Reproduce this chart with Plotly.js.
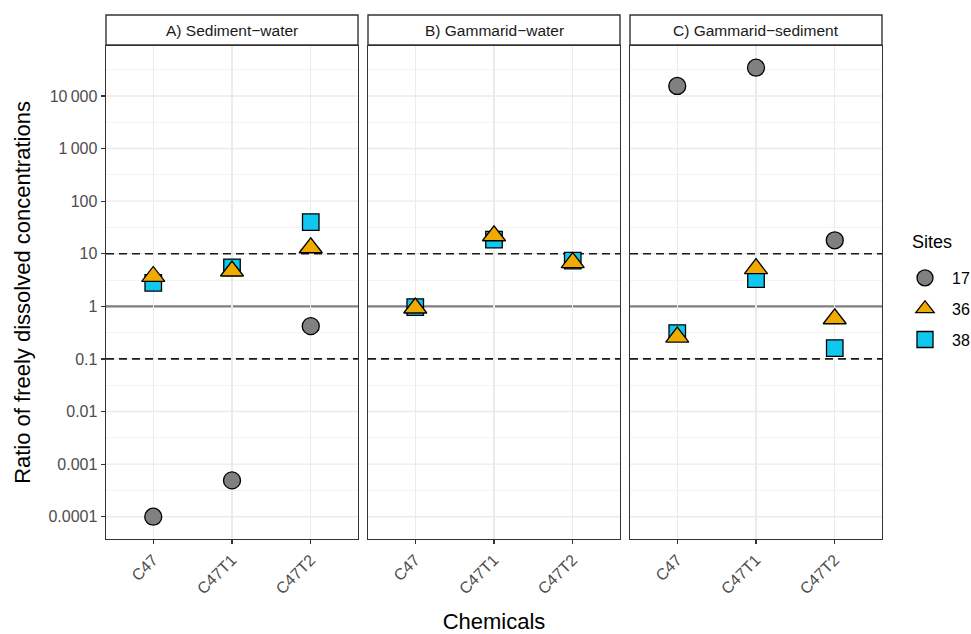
<!DOCTYPE html>
<html>
<head>
<meta charset="utf-8">
<script src="https://cdn.plot.ly/plotly-3.0.1.min.js"></script>
<style>html,body{margin:0;padding:0;background:#fff;}#chart{width:971px;height:634px;}</style>
</head>
<body>
<div id="chart"></div>
<script>
// ---- data ----
var chemicals = ["C47", "C47T1", "C47T2"];
var panels = ["A) Sediment\u2212water", "B) Gammarid\u2212water", "C) Gammarid\u2212sediment"];
var siteNames = ["17", "36", "38"];

// values per panel, ordered by chemicals (null = not present)
var site17_A = [0.0001, 0.00049, 0.42];
var site36_A = [3.7, 4.7, 13];
var site38_A = [2.8, 5.5, 40];

var site17_B = [null, null, null];
var site36_B = [0.93, 22, 6.8];
var site38_B = [0.97, 18.5, 7.4];

var site17_C = [15500, 34500, 18];
var site36_C = [0.26, 5.2, 0.58];
var site38_C = [0.31, 3.3, 0.16];

var yTickVals = [0.0001, 0.001, 0.01, 0.1, 1, 10, 100, 1000, 10000];
var yTickText = ["0.0001", "0.001", "0.01", "0.1", "1", "10", "100", "1\u2009000", "10\u2009000"];
var yMinorVals = [0.0000316, 0.000316, 0.00316, 0.0316, 0.316, 3.16, 31.6, 316, 3162, 31623];
var solidRef = [1];
var dashedRef = [10, 0.1];

// ---- style ----
var FONT = "Liberation Sans, Arial, sans-serif";
var colors = {"17": "#808080", "36": "#F0AA00", "38": "#10C8EF"};
var symbols = {"17": "circle", "36": "triangle-up", "38": "square"};
var sizes = {"17": 17, "36": 20, "38": 16.5};

var seriesByPanel = [
  {"17": site17_A, "36": site36_A, "38": site38_A},
  {"17": site17_B, "36": site36_B, "38": site38_B},
  {"17": site17_C, "36": site36_C, "38": site38_C}
];
var drawOrder = ["17", "38", "36"];
var legendRank = {"17": 1, "36": 2, "38": 3};

var traces = [];
seriesByPanel.forEach(function (p, i) {
  var xa = i === 0 ? "x" : "x" + (i + 1);
  var ya = i === 0 ? "y" : "y" + (i + 1);
  drawOrder.forEach(function (s) {
    traces.push({
      type: "scatter", mode: "markers",
      x: chemicals, y: p[s],
      xaxis: xa, yaxis: ya,
      name: s, legendgroup: s, showlegend: i === 0, legendrank: legendRank[s],
      marker: {symbol: symbols[s], size: sizes[s], color: colors[s],
               line: {color: "#000000", width: 1.3}},
      hoverinfo: "x+y+name"
    });
  });
});

var W = 776;
var domains = [[0, 252 / W], [262 / W, 514 / W], [524 / W, 1]];
var yr = [Math.log10(0.0001) - 0.424, Math.log10(10000) + 0.95];

function xaxis(i) {
  return {
    domain: domains[i], type: "category", categoryorder: "array", categoryarray: chemicals,
    range: [-0.6, 2.6], showline: true, linecolor: "#333333", linewidth: 1.4, mirror: true,
    showgrid: true, gridcolor: "#EBEBEB", gridwidth: 1.4, zeroline: false,
    ticks: "outside", ticklen: 4, tickcolor: "#333333", tickwidth: 1.2,
    tickangle: -45, tickfont: {family: FONT, size: 16, color: "#4D4D4D"},
    anchor: i === 0 ? "y" : "y" + (i + 1),
    title: i === 1 ? {text: "Chemicals", font: {family: FONT, size: 22, color: "#000"}, standoff: 24} : {text: ""}
  };
}
function yaxis(i) {
  return {
    type: "log", range: yr, tickmode: "array", tickvals: yTickVals, ticktext: yTickText,
    showticklabels: i === 0, ticks: i === 0 ? "outside" : "", ticklen: 4, tickcolor: "#333333", tickwidth: 1.2,
    showline: true, linecolor: "#333333", linewidth: 1.4, mirror: true,
    showgrid: false, zeroline: false,
    minor: {tickmode: "array", tickvals: yMinorVals, showgrid: true, gridcolor: "#F2F2F2", gridwidth: 0.9, ticks: ""},
    tickfont: {family: FONT, size: 16, color: "#4D4D4D"},
    anchor: i === 0 ? "x" : "x" + (i + 1),
    matches: i === 0 ? undefined : "y",
    title: i === 0 ? {text: "Ratio of freely dissolved concentrations", font: {family: FONT, size: 22, color: "#000"}, standoff: 11} : {text: ""}
  };
}

var shapes = [];
var annotations = [];
var stripH = 31 / 493;
for (var i = 0; i < 3; i++) {
  var xr = (i === 0 ? "x" : "x" + (i + 1)) + " domain";
  var yref = i === 0 ? "y" : "y" + (i + 1);
  // major horizontal gridlines (drawn as shapes so reference lines sit on top)
  yTickVals.forEach(function (v) {
    shapes.push({type: "line", xref: xr, yref: yref, x0: 0, x1: 1, y0: v, y1: v,
                 line: {color: "#EBEBEB", width: 1.4}, layer: "below"});
  });
  // reference lines
  solidRef.forEach(function (v) {
    shapes.push({type: "line", xref: xr, yref: yref, x0: 0, x1: 1, y0: v, y1: v,
                 line: {color: "#7F7F7F", width: 2.4}, layer: "below"});
  });
  dashedRef.forEach(function (v) {
    shapes.push({type: "line", xref: xr, yref: yref, x0: 0, x1: 1, y0: v, y1: v,
                 line: {color: "#1A1A1A", width: 1.6, dash: "8px,5px"}, layer: "below"});
  });
  // strip
  shapes.push({type: "rect", xref: "paper", yref: "paper", x0: domains[i][0], x1: domains[i][1],
               y0: 1 + 1 / 493, y1: 1 + stripH, fillcolor: "#FFFFFF", line: {color: "#333333", width: 1.4}});
  annotations.push({xref: "paper", yref: "paper", x: (domains[i][0] + domains[i][1]) / 2, y: 1 + stripH / 2 + 0.5 / 493,
                    text: panels[i], showarrow: false, xanchor: "center", yanchor: "middle",
                    font: {family: FONT, size: 15.5, color: "#1A1A1A"}});
}
// legend title
annotations.push({xref: "paper", yref: "paper", x: (910 - 106) / W, y: (539 - 242) / 493,
                  text: "Sites", showarrow: false, xanchor: "left", yanchor: "middle",
                  font: {family: FONT, size: 18, color: "#000"}});

var layout = {
  width: 971, height: 634,
  margin: {l: 106, r: 89, t: 46, b: 95, autoexpand: false},
  paper_bgcolor: "#FFFFFF", plot_bgcolor: "#FFFFFF",
  showlegend: true,
  legend: {x: 898 / 971, xref: "container", y: (539 - 261) / 493, xanchor: "left", yanchor: "top", traceorder: "grouped",
           font: {family: FONT, size: 16, color: "#000"}, itemwidth: 44,
           itemsizing: "trace", tracegroupgap: 7, bgcolor: "rgba(0,0,0,0)"},
  xaxis: xaxis(0), xaxis2: xaxis(1), xaxis3: xaxis(2),
  yaxis: yaxis(0), yaxis2: yaxis(1), yaxis3: yaxis(2),
  shapes: shapes, annotations: annotations
};
Plotly.newPlot("chart", traces, layout, {displayModeBar: false, staticPlot: true});
</script>
</body>
</html>
